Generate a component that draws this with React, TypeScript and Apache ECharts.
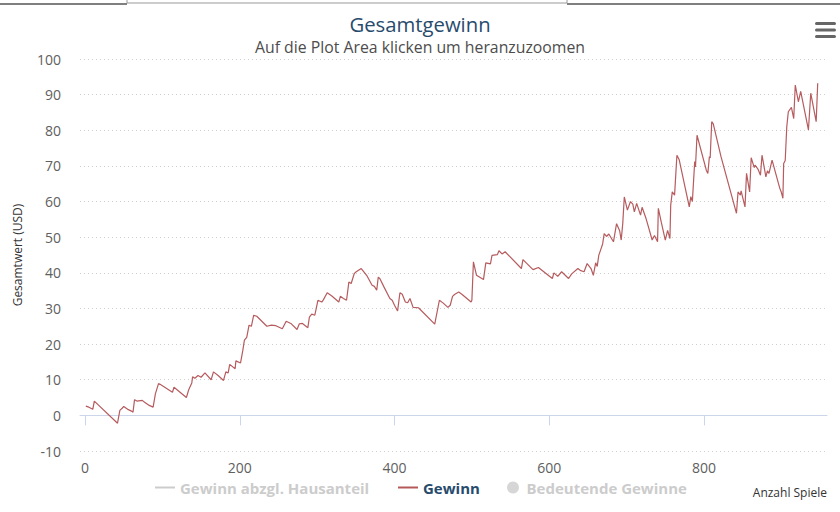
import React, { useEffect, useRef } from "react";
import * as echarts from "echarts";

const chartTitle = "Gesamtgewinn";
const chartSubtitle = "Auf die Plot Area klicken um heranzuzoomen";
const yAxisName = "Gesamtwert (USD)";
const xAxisName = "Anzahl Spiele";
const seriesNames = ["Gewinn abzgl. Hausanteil", "Gewinn", "Bedeutende Gewinne"];
const xTickValues = [0, 200, 400, 600, 800];

// games played (x) and cumulative profit in USD (y)
const gamesPlayed = [
  1, 5, 10, 12, 42, 45, 48, 50, 56, 60, 62, 64, 67, 74, 77, 83, 88, 91, 95, 97,
  113, 115, 131, 134, 138, 139, 142, 146, 150, 155, 163, 166, 172, 179, 182, 185, 187, 194, 195, 201,
  204, 206, 209, 212, 215, 218, 222, 235, 241, 246, 255, 260, 266, 274, 277, 281, 288, 290, 293, 297,
  301, 306, 308, 313, 319, 328, 330, 334, 338, 341, 344, 348, 350, 357, 364, 371, 374, 377, 379, 381,
  386, 394, 397, 400, 404, 407, 410, 414, 417, 420, 424, 431, 452, 458, 463, 469, 472, 475, 478, 483,
  487, 499, 500, 502, 506, 515, 518, 524, 526, 533, 535, 539, 543, 564, 566, 579, 586, 604, 606, 611,
  616, 625, 629, 637, 640, 645, 649, 654, 657, 660, 662, 664, 667, 669, 671, 674, 677, 683, 687, 691,
  693, 695, 697, 701, 705, 708, 710, 713, 718, 720, 725, 727, 733, 736, 740, 741, 745, 750, 753, 756,
  757, 759, 762, 765, 768, 781, 783, 785, 788, 789, 791, 803, 805, 807, 808, 810, 812, 822, 842, 844,
  847, 848, 853, 855, 859, 861, 865, 866, 870, 873, 875, 880, 882, 884, 888, 898, 900, 902, 903, 905,
  907, 909, 913, 916, 918, 922, 925, 935, 938, 945, 947,
];
const profit = [
  2.6, 2.3, 1.7, 4.0, -2.2, 1.4, 2.0, 2.5, 1.6, 1.2, 0.9, 4.4, 4.0, 4.2, 3.7, 2.8, 2.3, 6.1, 8.9, 8.7,
  6.5, 7.9, 5.0, 7.2, 9.1, 10.8, 10.4, 11.2, 10.7, 11.9, 10.0, 12.2, 11.2, 9.8, 12.2, 11.9, 14.3, 13.1, 15.3, 14.7,
  18.3, 21.1, 21.9, 25.3, 25.0, 28.1, 27.8, 25.0, 25.3, 25.2, 24.3, 26.4, 25.8, 24.1, 25.7, 25.8, 24.6, 27.6, 28.4, 28.1,
  32.3, 31.8, 32.4, 34.4, 33.5, 31.8, 33.4, 32.8, 32.3, 37.4, 37.0, 39.8, 40.2, 41.2, 39.3, 36.5, 36.2, 35.1, 38.8, 38.4,
  36.2, 32.8, 32.3, 30.9, 29.3, 34.4, 34.0, 31.8, 31.6, 32.8, 30.3, 30.2, 25.6, 32.3, 31.5, 30.3, 30.9, 33.4, 34.0, 34.6,
  34.0, 31.8, 32.3, 43.1, 39.3, 38.1, 42.8, 42.5, 44.9, 45.1, 46.2, 45.3, 45.9, 41.2, 43.7, 40.9, 41.5, 38.4, 40.0, 39.0,
  40.3, 38.4, 39.7, 41.2, 40.7, 40.3, 42.6, 41.2, 39.3, 42.8, 41.8, 44.9, 46.8, 48.1, 51.0, 50.2, 50.9, 48.7, 53.8, 51.8,
  49.2, 53.8, 61.3, 57.6, 60.0, 59.3, 57.1, 59.5, 56.2, 58.4, 55.3, 53.8, 49.2, 50.5, 48.7, 58.1, 54.0, 49.2, 51.9, 49.6,
  59.0, 62.7, 61.8, 73.0, 71.7, 58.5, 61.4, 60.0, 71.2, 69.7, 78.6, 68.8, 67.9, 72.6, 72.2, 82.4, 81.8, 72.6, 56.7, 62.7,
  61.8, 63.0, 58.5, 67.9, 62.7, 72.3, 69.5, 70.2, 69.0, 67.4, 73.0, 66.9, 68.6, 67.9, 71.6, 63.7, 62.6, 60.9, 70.7, 71.5,
  81.0, 85.2, 86.4, 83.3, 92.7, 88.0, 90.9, 80.1, 90.4, 82.4, 93.2,
];

const FONT = "'Open Sans', sans-serif";
const NAVY = "#274b6d";

export default function App() {
  const ref = useRef<HTMLDivElement>(null);

  useEffect(() => {
    if (!ref.current) return;
    const chart = echarts.init(ref.current, null, { renderer: "svg" });
    const lineData = gamesPlayed.map((x, i) => [x, profit[i]]);
    const lineIcon = "path://M0,0H20V2H0Z";
    const selected = { [seriesNames[0]]: false, [seriesNames[1]]: true, [seriesNames[2]]: false };
    const legendBase = {
      top: 480,
      itemHeight: 12,
      padding: 0,
      selected,
      inactiveColor: "#cccccc",
      textStyle: { fontFamily: FONT, fontSize: 15, fontWeight: "bold", color: NAVY },
    };

    chart.setOption({
      animation: false,
      backgroundColor: "#ffffff",
      title: [
        {
          text: chartTitle,
          left: "center",
          top: 9,
          textStyle: { fontFamily: FONT, fontSize: 20.3, fontWeight: "normal", color: NAVY },
        },
        {
          text: chartSubtitle,
          left: "center",
          top: 34,
          textStyle: { fontFamily: FONT, fontSize: 15.8, fontWeight: "normal", color: "#4d4d4d" },
        },
      ],
      legend: [
        { ...legendBase, data: [{ name: seriesNames[0], icon: lineIcon }], left: 155, itemWidth: 20 },
        { ...legendBase, data: [{ name: seriesNames[1], icon: lineIcon }], left: 398, itemWidth: 20 },
        { ...legendBase, data: [{ name: seriesNames[2], icon: "circle" }], left: 507, itemWidth: 17 },
      ],
      grid: { left: 80, right: 13, top: 59, bottom: 61, containLabel: false },
      xAxis: {
        type: "value",
        min: -6.5,
        max: 959,
        name: xAxisName,
        nameLocation: "end",
        nameGap: 0,
        nameTextStyle: {
          fontFamily: FONT,
          fontSize: 12,
          color: "#333333",
          align: "right",
          verticalAlign: "top",
          padding: [71, 0, 0, 0],
        },
        axisLine: { show: true, lineStyle: { color: "#ccd6eb", width: 1 } },
        axisTick: { show: true, customValues: xTickValues, length: 10, lineStyle: { color: "#ccd6eb" } },
        axisLabel: { customValues: xTickValues, color: "#606060", fontFamily: FONT, fontSize: 14, margin: 9 },
        splitLine: { show: false },
      },
      yAxis: {
        type: "value",
        min: -10,
        max: 100,
        interval: 10,
        name: yAxisName,
        nameLocation: "middle",
        nameRotate: 90,
        nameGap: 57,
        nameTextStyle: { fontFamily: FONT, fontSize: 12, color: "#333333" },
        axisLine: { show: false },
        axisTick: { show: false },
        axisLabel: { color: "#606060", fontFamily: FONT, fontSize: 14, margin: 19 },
        splitLine: { show: true, lineStyle: { color: "#cfcfcf", width: 1, type: [1, 3] } },
      },
      series: [
        {
          name: seriesNames[0],
          type: "line",
          data: [],
          color: "#bbbbbb",
          showSymbol: false,
        },
        {
          name: seriesNames[1],
          type: "line",
          data: lineData,
          color: "#b4585a",
          showSymbol: false,
          symbol: "none",
          lineStyle: { width: 1.2, color: "#b65b5e" },
        },
        {
          name: seriesNames[2],
          type: "scatter",
          data: [],
          color: "#bbbbbb",
        },
      ],
      graphic: [
        { type: "line", shape: { x1: 0, y1: 4, x2: 127, y2: 4 }, style: { stroke: "#555555", lineWidth: 1.5 } },
        { type: "line", shape: { x1: 567, y1: 4, x2: 840, y2: 4 }, style: { stroke: "#555555", lineWidth: 1.5 } },
        {
          type: "rect",
          shape: { x: 127, y: -2, width: 440, height: 5 },
          style: { fill: "#ffffff", stroke: "#999999", lineWidth: 1 },
        },
        { type: "rect", shape: { x: 815, y: 22, width: 21, height: 3, r: 1.5 }, style: { fill: "#666666" } },
        { type: "rect", shape: { x: 815, y: 28.5, width: 21, height: 3, r: 1.5 }, style: { fill: "#666666" } },
        { type: "rect", shape: { x: 815, y: 35, width: 21, height: 3, r: 1.5 }, style: { fill: "#666666" } },
      ],
    });

    return () => chart.dispose();
  }, []);

  return (
    <div
      ref={ref}
      style={{ position: "absolute", left: 0, top: 0, width: 840, height: 512 }}
    />
  );
}
